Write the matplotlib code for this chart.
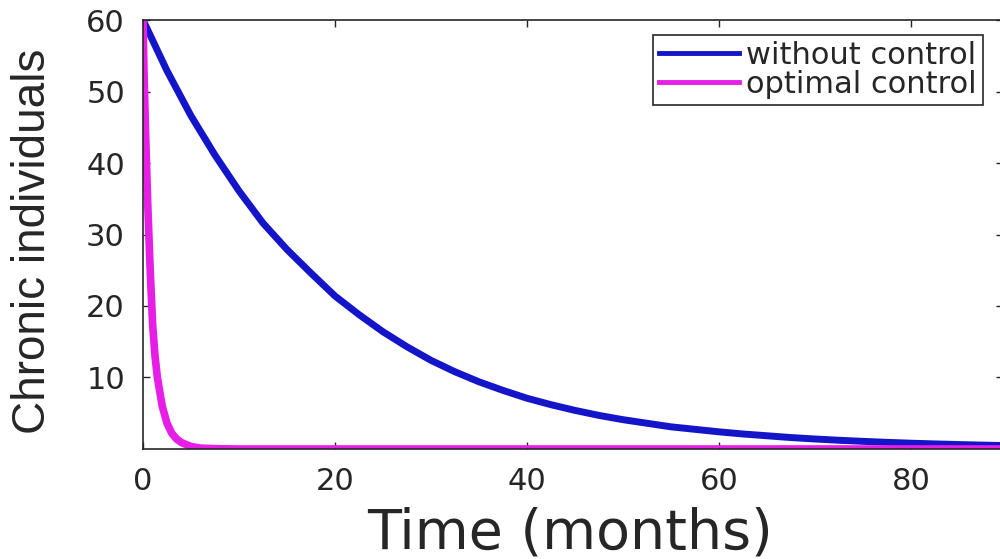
import numpy as np
import matplotlib.pyplot as plt

# ---------------------------------
# DATA
# ---------------------------------

# without control
t_free = [0, 2.5, 5, 7.5, 10, 12.5, 15, 17.5, 20, 22.5, 25, 27.5, 30, 32.5,
          35, 37.5, 40, 42.5, 45, 47.5, 50, 52.5, 55, 57.5, 60, 62.5, 65,
          67.5, 70, 72.5, 75, 77.5, 80, 82.5, 85, 87.5, 90]
c_free = [60.0, 52.9, 46.6, 41.1, 36.1, 31.6, 27.9, 24.6, 21.4, 18.8, 16.4,
          14.3, 12.4, 10.8, 9.4, 8.2, 7.1, 6.2, 5.4, 4.7, 4.1, 3.6, 3.1,
          2.75, 2.4, 2.1, 1.85, 1.6, 1.4, 1.22, 1.07, 0.93, 0.81, 0.71,
          0.62, 0.54, 0.47]

# optimal control
t_opt = [0, 0.1, 0.25, 0.5, 0.75, 1.0, 1.25, 1.5, 2.0, 2.5, 3.0, 3.5, 4.0,
         5.0, 6.0, 8.0, 10.0, 90.0]
c_opt = [60.0, 53.0, 45.0, 34.0, 25.0, 17.5, 13.0, 10.0, 6.0, 3.6, 2.2, 1.4,
         0.9, 0.35, 0.12, 0.03, 0.0, 0.0]

x_ticks = [0, 20, 40, 60, 80]
y_ticks = [10, 20, 30, 40, 50, 60]

labels = ["without control", "optimal control"]
colors = ["#1414C8", "#E61EE6"]

# ---------------------------------
# PLOT
# ---------------------------------

plt.rcParams["font.family"] = "DejaVu Sans"
dark = "#262626"

fig = plt.figure(figsize=(10, 5.59), dpi=100)
ax = fig.add_axes([0.143, 0.1968, 0.860, 0.7674])

ax.plot(t_free, c_free, color=colors[0], lw=5, label=labels[0],
        solid_joinstyle="round")
ax.plot(t_opt, c_opt, color=colors[1], lw=5.5, label=labels[1],
        solid_joinstyle="round")

ax.set_xlim(0, 89.6)
ax.set_ylim(0, 60)
ax.set_xticks(x_ticks)
ax.set_yticks(y_ticks)

ax.tick_params(axis="both", direction="in", length=5, width=1,
               color=dark, labelcolor=dark, labelsize=22,
               top=True, right=True)
ax.tick_params(axis="x", pad=13)
ax.tick_params(axis="y", pad=13)
for sp in ax.spines.values():
    sp.set_color(dark)
    sp.set_linewidth(1.2)

ax.set_xlabel("Time (months)", fontsize=40, color=dark)
ax.xaxis.set_label_coords(0.4965, -0.133)
ax.set_ylabel("Chronic individuals", fontsize=33, color=dark,
              family="Liberation Sans")
ax.yaxis.set_label_coords(-0.102, 0.483)

leg = ax.legend(loc="upper right", bbox_to_anchor=(0.977, 0.965),
                borderaxespad=0, fontsize=22, fancybox=False,
                edgecolor=dark, framealpha=1, handlelength=2.6,
                handletextpad=0.25, borderpad=0.2, labelspacing=0.0)
leg.get_frame().set_linewidth(1.2)
for line in leg.get_lines():
    line.set_linewidth(3.5)
for txt in leg.get_texts():
    txt.set_color(dark)

fig.savefig("out.png", dpi=100)
